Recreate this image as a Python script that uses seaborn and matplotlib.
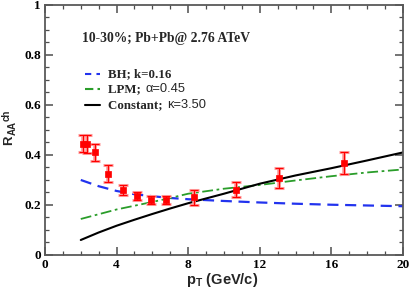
import numpy as np
import pandas as pd
import matplotlib
matplotlib.use("Agg")
import matplotlib.pyplot as plt
import seaborn as sns

# measured charged hadron R_AA (10-30%)
pt_data = [2.1, 2.35, 2.8, 3.5, 4.35, 5.15, 5.95, 6.75, 8.3, 10.7, 13.07, 16.7]
raa_data = [0.445, 0.443, 0.41, 0.325, 0.26, 0.235, 0.218, 0.22, 0.23, 0.26, 0.307, 0.367]
raa_err = [0.035, 0.035, 0.035, 0.035, 0.02, 0.016, 0.016, 0.016, 0.03, 0.03, 0.04, 0.045]

# model curves
pt_model = [2, 3, 4, 5, 6, 7, 8, 10, 12, 14, 16, 18, 20]
raa_bh = [0.300, 0.275, 0.256, 0.243, 0.235, 0.228, 0.223, 0.216, 0.210, 0.205, 0.201, 0.198, 0.195]
raa_lpm = [0.144, 0.163, 0.182, 0.197, 0.212, 0.228, 0.245, 0.265, 0.280, 0.298, 0.315, 0.330, 0.342]
raa_const = [0.060, 0.090, 0.117, 0.141, 0.164, 0.186, 0.207, 0.245, 0.285, 0.318, 0.347, 0.378, 0.410]

sns.set_style("ticks")
plt.rcParams['font.family'] = ['Liberation Serif', 'DejaVu Serif']
plt.rcParams['mathtext.fontset'] = 'custom'
plt.rcParams['mathtext.rm'] = 'Liberation Sans'
plt.rcParams['mathtext.bf'] = 'Liberation Sans:bold'
plt.rcParams['mathtext.it'] = 'Liberation Sans:italic'

fig = plt.figure(figsize=(4.09, 2.88), dpi=100)
ax = fig.add_axes([0.110, 0.1146, 0.875, 0.8684])

models = pd.DataFrame({'pt': pt_model, 'bh': raa_bh, 'lpm': raa_lpm, 'const': raa_const})
sns.lineplot(data=models, x='pt', y='bh', ax=ax, color='#2233ee', lw=1.6,
             linestyle=(0, (5, 3)))
sns.lineplot(data=models, x='pt', y='lpm', ax=ax, color='#2a9d2a', lw=1.3,
             linestyle=(0, (6, 2, 1.5, 2)))
sns.lineplot(data=models, x='pt', y='const', ax=ax, color='black', lw=1.5)

ax.errorbar(pt_data, raa_data, yerr=raa_err, fmt='none', ecolor='#ff9a9a',
            elinewidth=2.6, capsize=3.5, capthick=2.2, zorder=3)
ax.errorbar(pt_data, raa_data, yerr=raa_err, fmt='none', ecolor='red',
            elinewidth=0.9, capsize=3.0, capthick=0.8, zorder=4)
sns.scatterplot(x=pt_data, y=raa_data, ax=ax, marker='s', color='red', s=22,
                edgecolor='red', linewidth=0.5, zorder=5)

ax.set_xlim(0, 20)
ax.set_ylim(0, 1)
ax.set_xticks([0, 4, 8, 12, 16, 20])
ax.set_xticks(np.arange(0, 21, 1), minor=True)
ax.set_yticks([0, 0.2, 0.4, 0.6, 0.8, 1])
ax.set_yticklabels(['0', '0.2', '0.4', '0.6', '0.8', '1'])
ax.set_yticks(np.arange(0, 1.01, 0.05), minor=True)
ax.tick_params(which='both', direction='in', top=True, right=True, colors='0.3',
               labelcolor='black', labelsize=9.5)
ax.tick_params(axis='x', which='major', pad=3)
ax.tick_params(axis='y', which='major', pad=3)
ax.tick_params(which='major', length=6, width=1.1)
ax.tick_params(which='minor', length=3, width=0.9)
for lab in ax.get_xticklabels() + ax.get_yticklabels():
    lab.set_fontweight('bold')
for sp in ax.spines.values():
    sp.set_color('0.35')
    sp.set_linewidth(1.3)

ax.set_xlabel(r'$\mathbf{p_T}$ (GeV/c)', family='Liberation Sans', fontweight='bold',
              fontsize=10.5)
ax.xaxis.set_label_coords(0.494, -0.062)
ax.xaxis.label.set_va('top')
ax.set_ylabel('')

# y label R_AA^ch built from pieces so it stays tight to the left edge
lab_kw = dict(rotation=90, ha='center', va='center', family='Liberation Sans',
              fontweight='bold')
fig.text(0.0235, 0.514, 'R', fontsize=9.5, **lab_kw)
fig.text(0.0300, 0.556, 'AA', fontsize=7, **lab_kw)
fig.text(0.0165, 0.601, 'ch', fontsize=7, **lab_kw)

ax.text(0.103, 0.864, '10-30%; Pb+Pb@ 2.76 ATeV', transform=ax.transAxes,
        fontsize=9.8, fontweight='bold', va='center')

# legend drawn by hand: bold serif name + regular sans value
entries = [('BH; k=0.16', '', '#2233ee', (0, (3, 2.5)), 0.724),
           ('LPM; ', '\u03b1=0.45', '#2a9d2a', (0, (4, 2, 1.5, 2)), 0.664),
           ('Constant; ', '\u03ba=3.50', 'black', '-', 0.600)]
fig.canvas.draw()
rend = fig.canvas.get_renderer()
for name, val, col, ls, yy in entries:
    ax.plot([0.112, 0.154], [yy, yy], transform=ax.transAxes, color=col, lw=1.5, ls=ls)
    t = ax.text(0.176, yy, name, transform=ax.transAxes, fontsize=9.3,
                fontweight='bold', va='center')
    if val:
        bb = t.get_window_extent(renderer=rend)
        x_end = ax.transAxes.inverted().transform((bb.x1, bb.y0))[0]
        ax.text(x_end + 0.004, yy, val, transform=ax.transAxes, fontsize=9.3,
                family='Liberation Sans', va='center')

fig.savefig('out.png', dpi=100)
